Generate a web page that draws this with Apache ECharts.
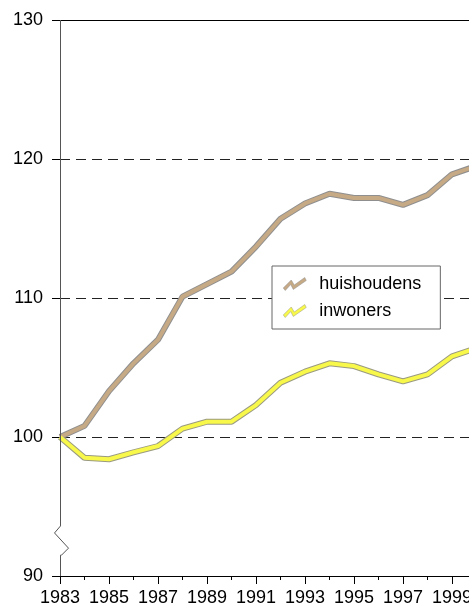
<!DOCTYPE html>
<html>
<head>
<meta charset="utf-8">
<script src="https://cdn.jsdelivr.net/npm/echarts@6/dist/echarts.min.js"></script>
<style>
html,body{margin:0;padding:0;background:#fff;}
#c{width:469px;height:607px;}
</style>
</head>
<body>
<div id="c"></div>
<script>
var years = [1983,1984,1985,1986,1987,1988,1989,1990,1991,1992,1993,1994,1995,1996,1997,1998,1999,2000];
var huishoudens = [100,100.8,103.3,105.3,107.0,110.1,111.0,111.9,113.7,115.7,116.8,117.5,117.2,117.2,116.7,117.4,118.9,119.5];
var inwoners = [100,98.5,98.4,98.9,99.35,100.6,101.1,101.1,102.3,103.9,104.7,105.3,105.1,104.5,104.0,104.5,105.8,106.4];
var yTicks = [90,100,110,120,130];
var seriesNames = ['huishoudens','inwoners'];

function pairs(vals){ return years.map(function(y,i){ return [y, vals[i]]; }); }

var chart = echarts.init(document.getElementById('c'));
var font = 'Arial, "Liberation Sans", sans-serif';
var zig = 'path://M0,10.5 L8,2.5 L11,7.5 L21.5,0 L23,3 L10,12 L7.5,7 L2,13 Z';
var colH = '#C6A985', colI = '#F8F84A', edgeH = '#8f8f8f', edgeI = '#9a9a80';

var option = {
  animation: false,
  backgroundColor: '#fff',
  grid: { left: 60, top: 20, width: 441, bottom: 31, containLabel: false, outerBoundsMode: 'none' },
  xAxis: [{
    type: 'value', min: 1983, max: 2001, interval: 2,
    axisLine: { show: true, lineStyle: { color: '#000', width: 1 } },
    axisTick: { show: true, length: 8, lineStyle: { color: '#000' } },
    minorTick: { show: true, splitNumber: 2, length: 4, lineStyle: { color: '#000' } },
    axisLabel: { color: '#000', fontSize: 18, fontFamily: font, margin: 13, formatter: function(v){ return String(v); } },
    splitLine: { show: false }
  },{
    type: 'value', min: 1983, max: 2001, position: 'top',
    axisLine: { show: true, lineStyle: { color: '#000', width: 1 } },
    axisTick: { show: false }, axisLabel: { show: false }, splitLine: { show: false }
  }],
  yAxis: {
    type: 'value', min: yTicks[0], max: yTicks[yTicks.length-1], interval: 10,
    axisLine: { show: false },
    axisTick: { show: true, length: 8, lineStyle: { color: '#000' } },
    axisLabel: { color: '#000', fontSize: 18, fontFamily: font, margin: 17 },
    splitLine: { show: true, lineStyle: { color: '#222', type: [10, 6], width: 1 } }
  },
  legend: {
    data: [
      { name: seriesNames[0], icon: zig, itemStyle: { color: colH, borderColor: edgeH, borderWidth: 0.5 } },
      { name: seriesNames[1], icon: zig, itemStyle: { color: colI, borderColor: edgeI, borderWidth: 0.5 } }
    ],
    orient: 'vertical',
    left: 272, top: 266,
    backgroundColor: '#fff',
    borderColor: '#666', borderWidth: 1,
    padding: [9, 19, 9, 11],
    itemGap: 9,
    itemWidth: 23, itemHeight: 13,
    textStyle: { color: '#000', fontSize: 18, fontFamily: font, padding: [0, 0, 0, 8] }
  },
  series: [
    { name: 'huishoudens_rand', type: 'line', data: pairs(huishoudens), showSymbol: false, silent: true,
      lineStyle: { color: edgeH, width: 6 }, z: 2 },
    { name: seriesNames[0], type: 'line', data: pairs(huishoudens), showSymbol: false,
      itemStyle: { color: colH },
      lineStyle: { color: colH, width: 4 }, z: 3 },
    { name: 'inwoners_rand', type: 'line', data: pairs(inwoners), showSymbol: false, silent: true,
      lineStyle: { color: edgeI, width: 6 }, z: 2 },
    { name: seriesNames[1], type: 'line', data: pairs(inwoners), showSymbol: false,
      itemStyle: { color: colI },
      lineStyle: { color: colI, width: 4 }, z: 3 }
  ]
};
chart.setOption(option);

// y-axis line with break symbol
var pTop = chart.convertToPixel({gridIndex:0}, [1983, 130]);
var pB1 = chart.convertToPixel({gridIndex:0}, [1983, 93.6]);
var pB2 = chart.convertToPixel({gridIndex:0}, [1983, 91.5]);
var pBot = chart.convertToPixel({gridIndex:0}, [1983, 90]);
var x0 = Math.round(pTop[0]) + 0.5;
chart.setOption({
  graphic: [
    { type: 'polyline', z: 10, shape: { points: [[x0, pTop[1]], [x0, pB1[1]], [x0-6, pB1[1]+7], [x0+8, pB2[1]-7], [x0+1, pB2[1]], [x0, pB2[1]], [x0, pBot[1]]] },
      style: { stroke: '#555', lineWidth: 1, fill: null } }
  ]
});
</script>
</body>
</html>
